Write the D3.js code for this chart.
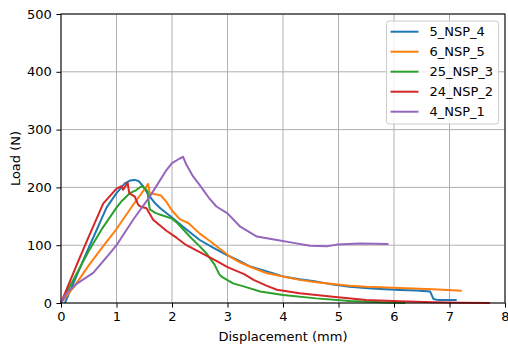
<!DOCTYPE html>
<meta charset="utf-8">
<head>
<script src="https://cdn.jsdelivr.net/npm/d3@7"></script>
</head>
<style type="text/css">
  body { margin: 0; background: #fff; }
  svg { font-family: "DejaVu Sans", sans-serif; }
  .grid line { stroke: #b0b0b0; stroke-width: 1px; }
  .axis text { font-size: 13px; fill: #000; }
</style>
<body></body>
<script type="text/javascript">

var labels = ["5_NSP_4", "6_NSP_5", "25_NSP_3", "24_NSP_2", "4_NSP_1"];
var colors = ["#1f77b4", "#ff7f0e", "#2ca02c", "#d62728", "#9467bd"];
var xTicks = [0, 1, 2, 3, 4, 5, 6, 7, 8];
var yTicks = [0, 100, 200, 300, 400, 500];

// [displacement, load]
var nsp4 = [[0.07,0],[0.25,40],[0.45,85],[0.65,128],[0.82,165],[1.0,190],[1.15,207],[1.25,212],[1.32,213],[1.4,211],[1.47,203],[1.52,196],[1.6,184],[1.7,172],[1.8,163],[2.0,148],[2.2,132],[2.38,118],[2.5,109],[2.74,96],[2.99,83],[3.23,72],[3.41,63],[3.56,59],[3.8,52],[4.0,46],[4.3,41],[4.6,37],[4.9,32],[5.2,28],[5.6,25],[6.1,22.5],[6.4,21.5],[6.65,20],[6.71,7],[6.8,5],[7.13,5]];
var nsp5 = [[0,0],[0.25,30],[0.5,65],[0.75,97],[1.0,128],[1.3,170],[1.5,196],[1.57,206],[1.6,190],[1.7,188],[1.8,186],[1.9,175],[2.0,160],[2.14,145],[2.3,138],[2.5,120],[2.7,106],[2.86,94],[3.05,80],[3.23,70],[3.45,61],[3.7,52],[4.0,46],[4.3,40],[4.6,36],[4.9,33],[5.2,30],[5.5,28],[6.1,26],[6.7,24],[7.22,21]];
var nsp3 = [[0,0],[0.25,45],[0.5,90],[0.75,130],[1.0,165],[1.1,177],[1.24,190],[1.35,195],[1.45,202],[1.52,198],[1.56,193],[1.58,175],[1.6,162],[1.7,156],[1.78,153],[2.0,146],[2.1,138],[2.32,115],[2.5,98],[2.62,86],[2.77,66],[2.85,50],[2.9,45],[3.1,34],[3.35,27],[3.59,20],[4.0,14],[4.6,8],[5.2,3.5],[5.9,1],[6.2,0]];
var nsp2 = [[0,0],[0.3,70],[0.5,115],[0.76,172],[0.88,185],[1.0,198],[1.09,202],[1.12,196],[1.2,208],[1.23,190],[1.33,184],[1.39,170],[1.43,167],[1.54,164],[1.66,144],[1.9,125],[2.08,113],[2.26,100],[2.5,88],[2.8,73],[3.0,62],[3.3,50],[3.47,40],[3.7,30],[3.89,23],[4.3,17],[4.9,11],[5.5,5],[6.1,3],[6.7,1.5],[7.2,0.5],[7.73,0]];
var nsp1 = [[0,0],[0.1,17],[0.28,33],[0.58,52],[0.88,86],[1.0,100],[1.3,144],[1.6,184],[1.9,230],[2.0,242],[2.14,250],[2.2,253],[2.26,239],[2.38,219],[2.5,204],[2.68,180],[2.8,167],[3.0,155],[3.23,132],[3.53,115],[3.89,109],[4.19,104],[4.49,99],[4.79,98],[4.97,101],[5.39,103],[5.9,102]];

var series = [nsp4, nsp5, nsp3, nsp2, nsp1];

var width = 508, height = 347;
var margin = {left: 61, top: 14, right: 3, bottom: 44};

var svg = d3.select("body").append("svg")
    .attr("width", width)
    .attr("height", height);

var x = d3.scaleLinear().domain([0, 8]).range([margin.left, width - margin.right]);
var y = d3.scaleLinear().domain([0, 500]).range([height - margin.bottom, margin.top]);

// grid
svg.append("g").attr("class", "grid")
  .selectAll("line.gx").data(xTicks).enter().append("line")
    .attr("x1", function(d) { return x(d); }).attr("x2", function(d) { return x(d); })
    .attr("y1", y(0)).attr("y2", y(500));
svg.append("g").attr("class", "grid")
  .selectAll("line.gy").data(yTicks).enter().append("line")
    .attr("x1", x(0)).attr("x2", x(8))
    .attr("y1", function(d) { return y(d); }).attr("y2", function(d) { return y(d); });

var line = d3.line()
    .x(function(d) { return x(d[0]); })
    .y(function(d) { return y(d[1]); });

svg.append("g").selectAll("path")
    .data(series)
  .enter().append("path")
    .attr("d", line)
    .attr("fill", "none")
    .attr("stroke", function(d, i) { return colors[i]; })
    .attr("stroke-width", 2)
    .attr("stroke-linejoin", "round");

// frame
svg.append("rect")
    .attr("x", x(0)).attr("y", y(500))
    .attr("width", x(8) - x(0)).attr("height", y(0) - y(500))
    .attr("fill", "none").attr("stroke", "#000").attr("stroke-width", 1);

svg.append("g").attr("class", "axis")
    .attr("transform", "translate(0," + y(0) + ")")
    .call(d3.axisBottom(x).tickValues(xTicks).tickSize(4.6).tickPadding(4.5).tickFormat(d3.format("d")));
svg.append("g").attr("class", "axis")
    .attr("transform", "translate(" + x(0) + ",0)")
    .call(d3.axisLeft(y).tickValues(yTicks).tickSize(4.6).tickPadding(4.5).tickFormat(d3.format("d")));
svg.selectAll(".axis .domain").remove();
svg.selectAll(".axis line").attr("stroke", "#000").attr("stroke-width", 1);
svg.selectAll(".axis text").style("font-family", "DejaVu Sans");

svg.append("text")
    .attr("x", (x(0) + x(8)) / 2).attr("y", 341)
    .attr("text-anchor", "middle")
    .style("font-size", "13px")
    .text("Displacement (mm)");

svg.append("text")
    .attr("transform", "translate(20," + (y(250)) + ") rotate(-90)")
    .attr("text-anchor", "middle")
    .style("font-size", "13px")
    .text("Load (N)");

// legend
var legend = svg.append("g").attr("transform", "translate(386.5,21)");
legend.append("rect")
    .attr("width", 112).attr("height", 103).attr("rx", 2.5)
    .attr("fill", "#fff").attr("fill-opacity", 0.8)
    .attr("stroke", "#cccccc").attr("stroke-width", 1);

var item = legend.selectAll(".item").data(labels)
  .enter().append("g")
    .attr("transform", function(d, i) { return "translate(0," + (10.7 + 20 * i) + ")"; });
item.append("line")
    .attr("x1", 4).attr("x2", 32)
    .attr("stroke", function(d, i) { return colors[i]; })
    .attr("stroke-width", 2);
item.append("text")
    .attr("x", 43).attr("y", 4.7)
    .style("font-size", "13px")
    .text(function(d) { return d; });

</script>
</html>
